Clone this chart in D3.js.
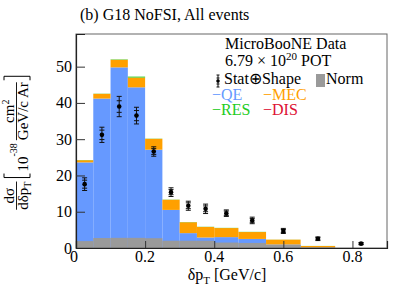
<!DOCTYPE html>
<html>
<head>
<meta charset="utf-8">
<script src="https://cdn.jsdelivr.net/npm/d3@7"></script>
<style>
  body { margin: 0; background: #fff; }
  svg { display: block; font-family: "Liberation Serif", "Times New Roman", serif; }
</style>
</head>
<body>
<svg id="chart" width="399" height="289"></svg>
<script>
// bin edges in delta pT [GeV/c]
const binEdges = [0, 0.05, 0.1, 0.15, 0.2, 0.25, 0.3, 0.35, 0.4, 0.47, 0.55, 0.65, 0.75, 0.9]

// stacked prediction, per bin
const qe = [23.6, 41.2, 49.8, 44.3, 27.1, 10.5, 4.1, 2.9, 3.0, 2.5, 0.95, 0.1, 0]
const mec = [0.6, 1.3, 2.1, 2.7, 3.0, 2.8, 3.0, 2.9, 2.5, 1.9, 1.35, 0.45, 0]
const res = [0.05, 0.05, 0.1, 0.25, 0.05, 0.05, 0.05, 0.05, 0.05, 0.05, 0.02, 0.02, 0]
const dis = [0, 0, 0, 0, 0, 0, 0, 0, 0, 0, 0, 0, 0]

// normalisation uncertainty band
const norm = [1.9, 2.75, 2.8, 2.8, 2.7, 2.0, 2.0, 2.0, 1.5, 1.4, 0.9, 0.1, 0]

// data points
const dataVals = [17.6, 31.2, 39.0, 36.5, 26.6, 15.4, 11.65, 10.8, 9.6, 7.6, 4.7, 2.55, 1.2]
const errTot = [1.75, 2.1, 2.8, 2.3, 1.3, 1.2, 1.25, 1.3, 0.9, 0.9, 0.7, 0.5, 0.3]
const errStat = [1.1, 1.3, 1.6, 1.4, 0.8, 0.7, 0.8, 0.8, 0.6, 0.5, 0.4, 0.3, 0.2]

const xTicks = [0, 0.2, 0.4, 0.6, 0.8]
const yTicks = [0, 10, 20, 30, 40, 50]

const colors = { qe: '#6699ff', mec: '#ffa000', res: '#22cc22', dis: '#dd1133', norm: '#9a9a9a' }

const svg = d3.select('#chart')
const x = d3.scaleLinear().domain([0, 0.9]).range([76, 387])
const y = d3.scaleLinear().domain([0, 59]).range([248, 34])

// stacked histogram
const rows = binEdges.slice(0, -1).map((e, i) => ({
  x0: e, x1: binEdges[i + 1], qe: qe[i], mec: mec[i], res: res[i], dis: dis[i]
}))
const stack = d3.stack().keys(['qe', 'mec', 'res', 'dis'])(rows)

svg.append('g')
  .selectAll('g')
  .data(stack)
  .enter()
  .append('g')
  .attr('fill', d => colors[d.key])
  .selectAll('rect')
  .data(d => d)
  .enter()
  .append('rect')
  .attr('x', d => x(d.data.x0))
  .attr('width', d => x(d.data.x1) - x(d.data.x0))
  .attr('y', d => y(d[1]))
  .attr('height', d => y(d[0]) - y(d[1]))

// norm band
svg.append('g')
  .selectAll('rect')
  .data(norm)
  .enter()
  .append('rect')
  .attr('fill', colors.norm)
  .attr('x', (d, i) => x(binEdges[i]))
  .attr('width', (d, i) => x(binEdges[i + 1]) - x(binEdges[i]))
  .attr('y', d => y(d))
  .attr('height', d => y(0) - y(d))

// frame
svg.append('rect')
  .attr('x', x(0)).attr('y', y(59))
  .attr('width', x(0.9) - x(0)).attr('height', y(0) - y(59))
  .attr('fill', 'none').attr('stroke', '#666').attr('stroke-width', 1)

// y axis: ticks point inward
const yAxis = svg.append('g').attr('transform', `translate(${x(0)},0)`)
  .call(d3.axisRight(y).tickValues(yTicks).tickSize(9).tickFormat(''))
yAxis.select('.domain').attr('stroke', '#222').attr('stroke-width', 1.2)
yAxis.selectAll('.tick line').attr('stroke', '#333')
yAxis.selectAll('.tick').filter(d => d === 0).remove()

svg.append('g')
  .selectAll('text')
  .data(yTicks)
  .enter()
  .append('text')
  .attr('x', 72)
  .attr('y', d => y(d) + 5.5)
  .attr('text-anchor', 'end')
  .attr('font-size', 16)
  .text(d => d)

// x axis: ticks point up
const xAxis = svg.append('g').attr('transform', `translate(0,${y(0)})`)
  .call(d3.axisTop(x).tickValues(xTicks).tickSize(7).tickFormat(''))
xAxis.select('.domain').attr('stroke', '#222').attr('stroke-width', 1.2)
xAxis.selectAll('.tick line').attr('stroke', '#333')
xAxis.selectAll('.tick').filter(d => d === 0).remove()

svg.append('g')
  .selectAll('text')
  .data(xTicks)
  .enter()
  .append('text')
  .attr('x', d => x(d) - (d === 0 ? 2 : 0))
  .attr('y', 262)
  .attr('text-anchor', 'middle')
  .attr('font-size', 16)
  .text(d => d === 0 ? '0' : d3.format('.1f')(d))

// data points with stat (inner) and total (outer) error bars
const pts = svg.append('g')
  .selectAll('g')
  .data(dataVals)
  .enter()
  .append('g')
  .attr('transform', (d, i) => `translate(${x((binEdges[i] + binEdges[i + 1]) / 2)},0)`)

pts.append('line')
  .attr('y1', (d, i) => y(d - errTot[i]))
  .attr('y2', (d, i) => y(d + errTot[i]))
  .attr('stroke', '#111').attr('stroke-width', 1)
pts.each(function (d, i) {
  const g = d3.select(this)
  ;[d - errTot[i], d + errTot[i], d - errStat[i], d + errStat[i]].forEach(v => {
    g.append('line')
      .attr('x1', -2.5).attr('x2', 2.5)
      .attr('y1', y(v)).attr('y2', y(v))
      .attr('stroke', '#111').attr('stroke-width', 1)
  })
})
pts.append('circle')
  .attr('cy', d => y(d))
  .attr('r', 2.3)
  .attr('fill', '#000')

// title
svg.append('text')
  .attr('x', 80).attr('y', 20)
  .attr('font-size', 16)
  .text('(b) G18 NoFSI, All events')

// x title
const xt = svg.append('text')
  .attr('x', 227).attr('y', 280)
  .attr('text-anchor', 'middle')
  .attr('font-size', 16)
xt.append('tspan').text('δp')
xt.append('tspan').attr('font-size', 11).attr('dy', 4).text('T')
xt.append('tspan').attr('dy', -4).text(' [GeV/c]')

// legend
const leg = svg.append('g').attr('font-size', 16)
leg.append('text').attr('x', 225).attr('y', 49).text('MicroBooNE Data')
const pot = leg.append('text').attr('x', 225).attr('y', 66)
pot.append('tspan').text('6.79 × 10')
pot.append('tspan').attr('font-size', 11).attr('dy', -6).text('20')
pot.append('tspan').attr('dy', 6).text(' POT')

leg.append('line').attr('x1', 218).attr('x2', 218).attr('y1', 75).attr('y2', 87)
  .attr('stroke', '#111')
;[75, 78, 84, 87].forEach(v => {
  leg.append('line').attr('x1', 216.5).attr('x2', 219.5).attr('y1', v).attr('y2', v).attr('stroke', '#111')
})
leg.append('circle').attr('cx', 218).attr('cy', 81).attr('r', 1.8).attr('fill', '#000')
leg.append('text').attr('x', 224).attr('y', 84).text('Stat⊕Shape')
leg.append('rect').attr('x', 316).attr('y', 74).attr('width', 9).attr('height', 13).attr('fill', colors.norm)
leg.append('text').attr('x', 326).attr('y', 84).text('Norm')

const legItems = [
  { label: '−QE', c: colors.qe, lx: 212, ly: 100 },
  { label: '−MEC', c: colors.mec, lx: 263, ly: 100 },
  { label: '−RES', c: colors.res, lx: 212, ly: 115 },
  { label: '−DIS', c: colors.dis, lx: 263, ly: 115 }
]
leg.selectAll('.item')
  .data(legItems)
  .enter()
  .append('text')
  .attr('class', 'item')
  .attr('x', d => d.lx).attr('y', d => d.ly)
  .attr('fill', d => d.c)
  .text(d => d.label)

// y title, rotated, built piece by piece
const yl = svg.append('g').attr('transform', 'rotate(-90)').attr('font-size', 15)
let pos = 0
const parts = []

function frac (numFn, denFn) {
  const g = yl.append('g')
  const n = g.append('text').attr('y', 13.5).attr('text-anchor', 'middle')
  numFn(n)
  const d = g.append('text').attr('y', 28).attr('text-anchor', 'middle')
  denFn(d)
  const w = Math.max(n.node().getBBox().width, d.node().getBBox().width)
  const line = g.append('line').attr('y1', 16.5).attr('y2', 16.5).attr('stroke', '#000').attr('stroke-width', 0.9)
  parts.push({ g, w, place: (p) => { n.attr('x', p + w / 2); d.attr('x', p + w / 2); line.attr('x1', p).attr('x2', p + w) } })
}
function bracket (open) {
  const g = yl.append('g')
  const p = g.append('path').attr('fill', 'none').attr('stroke', '#000').attr('stroke-width', 1)
  parts.push({ g, w: 4, place: (s) => {
    const a = open ? s : s + 4
    const b = open ? s + 4 : s
    p.attr('d', `M${b},4L${a},4L${a},30L${b},30`)
  } })
}
function gap (w) { parts.push({ w, place: () => {} }) }

frac(t => { t.text('dσ') }, t => {
  t.append('tspan').text('dδp')
  t.append('tspan').attr('font-size', 10).attr('dy', 3).text('T')
})
gap(4)
bracket(true)
gap(2)
const ten = yl.append('text').attr('y', 28)
ten.append('tspan').text('10')
ten.append('tspan').attr('font-size', 10).attr('dy', -11).text('-38')
parts.push({ w: ten.node().getBBox().width, place: (p) => ten.attr('x', p) })
gap(3)
frac(t => {
  t.append('tspan').text('cm')
  t.append('tspan').attr('font-size', 10).attr('dy', -5).text('2')
}, t => { t.text('GeV/c Ar') })
gap(2)
bracket(false)

const total = d3.sum(parts, p => p.w)
pos = -143 - total / 2
parts.forEach(p => { p.place(pos); pos += p.w })
</script>
</body>
</html>
